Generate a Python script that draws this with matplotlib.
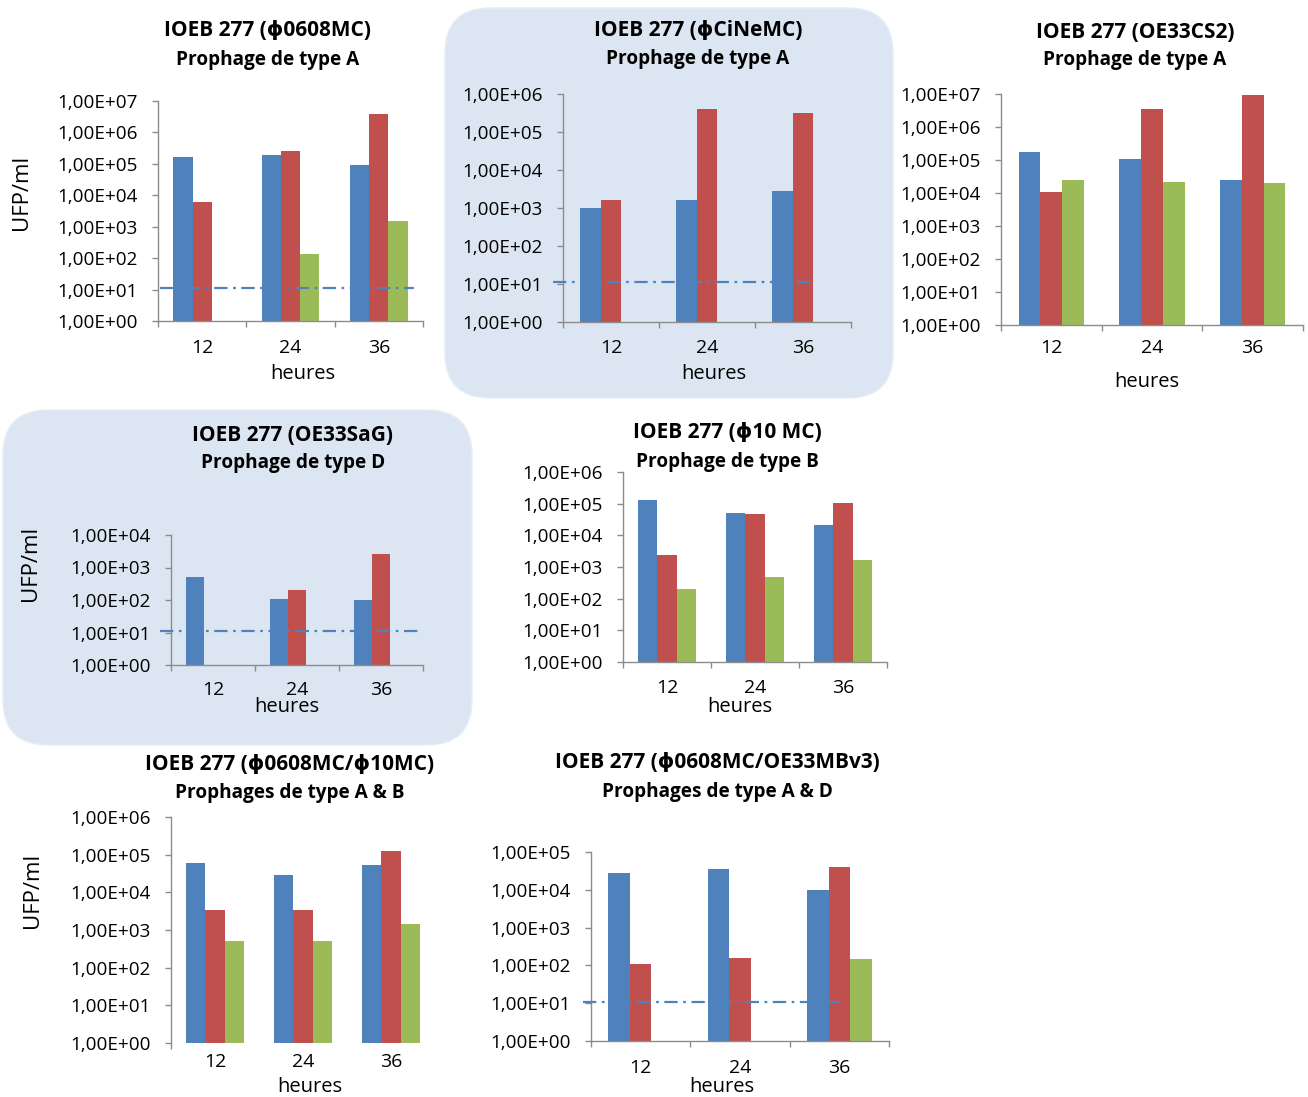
import numpy as np
import matplotlib
matplotlib.use('Agg')
from matplotlib import pyplot as plt
from matplotlib.patches import FancyBboxPatch

plt.rcParams['font.family'] = ['Open Sans', 'DejaVu Sans']

# valeurs (UFP/ml), séries bleue / rouge / verte
heures = ['12', '24', '36']
seuil = 11  # limite de détection (ligne tiretée)

p1_bleu = [1.7e5, 1.95e5, 9.2e4]
p1_rouge = [6.3e3, 2.6e5, 3.8e6]
p1_vert = [np.nan, 1.4e2, 1.55e3]

p2_bleu = [1.0e3, 1.6e3, 2.8e3]
p2_rouge = [1.6e3, 4.0e5, 3.1e5]
p2_vert = [np.nan, np.nan, np.nan]

p3_bleu = [1.8e5, 1.07e5, 2.5e4]
p3_rouge = [1.05e4, 3.4e6, 9.3e6]
p3_vert = [2.5e4, 2.2e4, 2.05e4]

p4_bleu = [5.2e2, 1.05e2, 1.0e2]
p4_rouge = [np.nan, 2.0e2, 2.6e3]
p4_vert = [np.nan, np.nan, np.nan]

p5_bleu = [1.3e5, 5.1e4, 2.1e4]
p5_rouge = [2.4e3, 4.8e4, 1.02e5]
p5_vert = [2.0e2, 5.0e2, 1.66e3]

p6_bleu = [6.0e4, 2.9e4, 5.3e4]
p6_rouge = [3.5e3, 3.5e3, 1.28e5]
p6_vert = [5.0e2, 5.0e2, 1.44e3]

p7_bleu = [2.8e4, 3.6e4, 1.0e4]
p7_rouge = [1.08e2, 1.6e2, 3.9e4]
p7_vert = [np.nan, np.nan, 1.5e2]

titres = [
    ('IOEB 277 (ϕ0608MC)', 'Prophage de type A'),
    ('IOEB 277 (ϕCiNeMC)', 'Prophage de type A'),
    ('IOEB 277 (OE33CS2)', 'Prophage de type A'),
    ('IOEB 277 (OE33SaG)', 'Prophage de type D'),
    ('IOEB 277 (ϕ10 MC)', 'Prophage de type B'),
    ('IOEB 277 (ϕ0608MC/ϕ10MC)', 'Prophages de type A & B'),
    ('IOEB 277 (ϕ0608MC/OE33MBv3)', 'Prophages de type A & D'),
]

BLEU, ROUGE, VERT = '#4F81BD', '#C0504D', '#9BBB59'
GRIS = '#8C8C8C'
FOND = '#DCE6F2'

W, H = 1308, 1097
fig = plt.figure(figsize=(W / 100, H / 100), dpi=100)

# cadres arrondis (en pouces : x, y bas, largeur, hauteur)
for x, y, w, h in [(4.45, 6.99, 4.48, 3.90), (0.03, 3.52, 4.69, 3.35)]:
    fig.add_artist(FancyBboxPatch((x, y), w, h, boxstyle='round,pad=0,rounding_size=0.45',
                                  transform=fig.dpi_scale_trans, facecolor=FOND,
                                  edgecolor='#E6EDF6', lw=1, zorder=-5))

# boîte des axes en pixels : gauche, droite, haut, bas ; exposant max ; titre ; etc.
panneaux = [
    dict(box=(158, 423, 101, 321), emax=7, series=(p1_bleu, p1_rouge, p1_vert),
         titre=(268, 31, 60), heures=(303, 374), ufp=(22, 192), pad=27, seuil=(-0.48, 2.40)),
    dict(box=(563, 851, 94, 322), emax=6, series=(p2_bleu, p2_rouge, p2_vert),
         titre=(698, 30, 59), heures=(714, 374), ufp=None, pad=26, seuil=(-0.60, 2.08)),
    dict(box=(1001, 1303, 94, 325), emax=7, series=(p3_bleu, p3_rouge, p3_vert),
         titre=(1135, 32, 60), heures=(1147, 382), ufp=None, pad=23, seuil=None),
    dict(box=(171, 423, 535, 665), emax=4, series=(p4_bleu, p4_rouge, p4_vert),
         titre=(293, 435, 463), heures=(287, 707), ufp=(30, 563), pad=25, seuil=(-0.63, 2.48)),
    dict(box=(623, 887, 472, 662), emax=6, series=(p5_bleu, p5_rouge, p5_vert),
         titre=(727, 433, 462), heures=(740, 707), ufp=None, pad=26, seuil=None),
    dict(box=(171, 435, 817, 1043), emax=6, series=(p6_bleu, p6_rouge, p6_vert),
         titre=(290, 765, 793), heures=(310, 1087), ufp=(33, 890), pad=19, seuil=None,
         sans_axe_x=True),
    dict(box=(591, 889, 852, 1041), emax=5, series=(p7_bleu, p7_rouge, p7_vert),
         titre=(717, 763, 792), heures=(722, 1087), ufp=None, pad=27, seuil=(-0.58, 2.01)),
]


def fig_txt(px, py, s, **kw):
    fig.text(px / W, 1 - py / H, s, ha='center', va='center', **kw)


largeur = 0.217
x = np.arange(len(heures))

for p, (t1, t2) in zip(panneaux, titres):
    x0, x1, yh, yb = p['box']
    ax = fig.add_axes([x0 / W, 1 - yb / H, (x1 - x0) / W, (yb - yh) / H])
    ax.set_facecolor('none')

    for k, (vals, coul) in enumerate(zip(p['series'], (BLEU, ROUGE, VERT))):
        ax.bar(x + (k - 1) * largeur, vals, largeur, color=coul, log=True, zorder=2)

    if p['seuil'] is not None:
        ax.plot(p['seuil'], [seuil, seuil], color=BLEU, lw=1.6,
                ls=(0, (6, 2.5, 1.2, 2.5)), clip_on=False, zorder=3)

    ax.set_yscale('log')
    ax.set_ylim(1, 10 ** p['emax'])
    ax.set_xlim(-0.5, len(heures) - 0.5)
    ax.set_yticks([10.0 ** e for e in range(p['emax'] + 1)])
    ax.set_yticklabels(['{:.2E}'.format(10.0 ** e).replace('.', ',') for e in range(p['emax'] + 1)])
    ax.minorticks_off()
    ax.tick_params(axis='y', direction='out', length=4.5, width=1, color=GRIS,
                   labelsize=13.6, pad=10)

    ax.set_xticks(x)
    ax.set_xticklabels(heures)
    ax.set_xticks(np.arange(len(heures) + 1) - 0.5, minor=True)
    ax.tick_params(axis='x', which='major', length=0, labelsize=14, pad=p['pad'] * 0.72)
    for lab in ax.get_xticklabels():
        lab.set_va('center')
    ax.tick_params(axis='x', which='minor', direction='out', length=4.5, width=1, color=GRIS)

    for s in ('top', 'right'):
        ax.spines[s].set_visible(False)
    for s in ('left', 'bottom'):
        ax.spines[s].set_color(GRIS)
        ax.spines[s].set_linewidth(1)
    if p.get('sans_axe_x'):
        ax.spines['bottom'].set_visible(False)
        ax.set_xticks([-0.5], minor=True)

    tx, ty1, ty2 = p['titre']
    fig_txt(tx, ty1, t1, fontsize=15, fontweight='bold')
    fig_txt(tx, ty2, t2, fontsize=13.7, fontweight='bold')
    fig_txt(p['heures'][0], p['heures'][1], 'heures', fontsize=14.5)
    if p['ufp'] is not None:
        fig_txt(p['ufp'][0], p['ufp'][1], 'UFP/ml', fontsize=16, rotation=90)

fig.savefig('out.png', dpi=100)
